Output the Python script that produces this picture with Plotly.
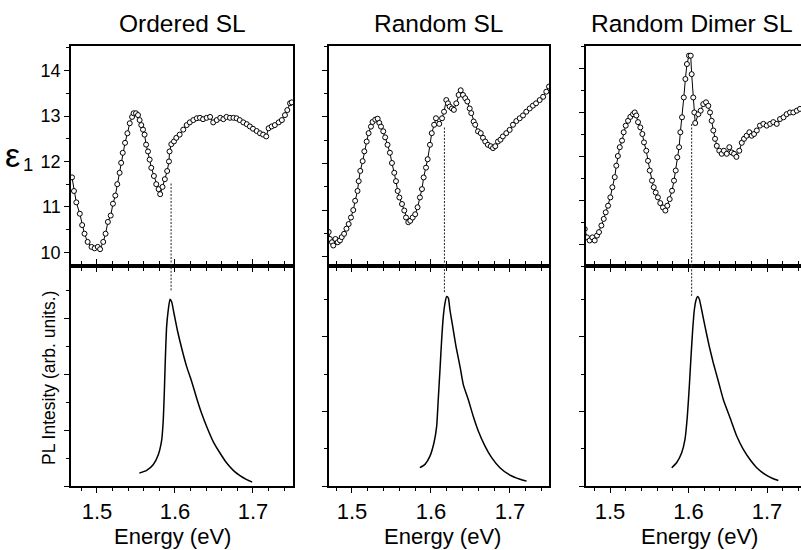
import plotly.graph_objects as go

# ---------------- data ----------------
titles = ["Ordered SL", "Random SL", "Random Dimer SL"]

# Ordered SL : epsilon_1
E_ord = [1.468, 1.4705, 1.4735, 1.478, 1.481, 1.484, 1.488, 1.493, 1.497, 1.501, 1.504, 1.508, 1.511,
         1.514, 1.5176, 1.5205, 1.5235, 1.526, 1.529, 1.531, 1.533, 1.536, 1.539, 1.542, 1.545, 1.547,
         1.550, 1.5526, 1.5547, 1.5568, 1.559, 1.561, 1.563, 1.5654, 1.5675, 1.5696, 1.573, 1.576, 1.579,
         1.581, 1.584, 1.587, 1.590, 1.5923, 1.593, 1.5953, 1.5987, 1.6017, 1.606, 1.6106, 1.615, 1.619,
         1.6235, 1.628, 1.632, 1.636, 1.6406, 1.645, 1.649, 1.6535, 1.658, 1.662, 1.666, 1.6705, 1.675,
         1.679, 1.683, 1.6876, 1.692, 1.696, 1.700, 1.7047, 1.709, 1.713, 1.717, 1.720, 1.724, 1.728,
         1.733, 1.737, 1.741, 1.744, 1.7475, 1.7497]
eps_ord = [11.65, 11.35, 11.10, 10.85, 10.60, 10.41, 10.23, 10.12, 10.09, 10.12, 10.07, 10.23, 10.41,
           10.67, 10.81, 11.07, 11.25, 11.50, 11.75, 11.97, 12.19, 12.41, 12.62, 12.84, 12.98, 13.06,
           13.06, 13.02, 12.91, 12.80, 12.70, 12.59, 12.37, 12.22, 12.04, 11.86, 11.68, 11.50, 11.39,
           11.28, 11.44, 11.61, 11.79, 12.00, 12.22, 12.38, 12.44, 12.52, 12.59, 12.70, 12.80, 12.86,
           12.91, 12.95, 12.96, 12.93, 12.96, 12.98, 12.86, 12.91, 12.96, 12.93, 12.98, 12.96, 12.96,
           12.95, 12.91, 12.86, 12.82, 12.77, 12.72, 12.67, 12.62, 12.59, 12.55, 12.73, 12.77, 12.80,
           12.86, 12.91, 13.02, 13.13, 13.28, 13.30]

# Random SL : epsilon_1
E_rnd = [1.4705, 1.472, 1.4747, 1.4763, 1.479, 1.482, 1.4848, 1.487, 1.490, 1.493, 1.4958, 1.4987,
         1.5016, 1.504, 1.507, 1.5085, 1.5105, 1.5135, 1.5156, 1.5186, 1.521, 1.524, 1.526, 1.5295,
         1.5325, 1.5346, 1.5367, 1.5396, 1.542, 1.545, 1.548, 1.5506, 1.5535, 1.5557, 1.5578, 1.560,
         1.5633, 1.5662, 1.5684, 1.5713, 1.5738, 1.5768, 1.580, 1.583, 1.586, 1.5886, 1.5907, 1.5937,
         1.5958, 1.5987, 1.601, 1.604, 1.6063, 1.6105, 1.614, 1.6165, 1.6194, 1.6215, 1.6237, 1.6266,
         1.629, 1.632, 1.635, 1.6376, 1.6405, 1.6434, 1.646, 1.649, 1.651, 1.654, 1.656, 1.6595, 1.663,
         1.6658, 1.6687, 1.672, 1.6756, 1.6785, 1.6814, 1.6848, 1.688, 1.691, 1.6953, 1.6996, 1.7038,
         1.708, 1.7123, 1.7165, 1.7206, 1.725, 1.729, 1.733, 1.7376, 1.742, 1.746, 1.7494]
eps_rnd = [10.53, 10.38, 10.31, 10.24, 10.38, 10.31, 10.35, 10.42, 10.49, 10.60, 10.70, 10.84,
           11.00, 11.20, 11.41, 11.62, 11.84, 12.05, 12.26, 12.47, 12.65, 12.79, 12.89, 12.94,
           12.96, 12.87, 12.79, 12.69, 12.56, 12.40, 12.23, 12.01, 11.80, 11.62, 11.41, 11.27,
           11.13, 10.99, 10.84, 10.74, 10.77, 10.84, 10.91, 11.06, 11.27, 11.45, 11.70, 11.91,
           12.09, 12.40, 12.65, 12.83, 12.97, 12.85, 12.97, 13.11, 13.36, 13.29, 13.22, 13.18,
           13.15, 13.29, 13.47, 13.57, 13.47, 13.40, 13.33, 13.18, 13.08, 12.90, 12.83, 12.69, 12.65,
           12.55, 12.47, 12.40, 12.37, 12.33, 12.37, 12.47, 12.51, 12.58, 12.65, 12.72, 12.83,
           12.91, 12.97, 13.03, 13.11, 13.18, 13.24, 13.29, 13.36, 13.43, 13.54, 13.65]

# Random Dimer SL : epsilon_1
E_dim = [1.4678, 1.4707, 1.474, 1.4775, 1.4805, 1.4834, 1.486, 1.489, 1.492, 1.4945, 1.4975, 1.5004,
         1.503, 1.506, 1.508, 1.510, 1.5124, 1.5153, 1.5174, 1.520, 1.523, 1.5259, 1.5293, 1.5315,
         1.5335, 1.5357, 1.5386, 1.5412, 1.5433, 1.5462, 1.5484, 1.5506, 1.5535, 1.5557, 1.5582,
         1.561, 1.564, 1.5675, 1.5705, 1.573, 1.576, 1.579, 1.5815, 1.5837, 1.5857, 1.588, 1.5896,
         1.5917, 1.594, 1.596, 1.598, 1.6006, 1.6028, 1.604, 1.606, 1.6074, 1.6085, 1.6125, 1.6155,
         1.6188, 1.6223, 1.6252, 1.6274, 1.6295, 1.6316, 1.6338, 1.636, 1.6392, 1.6423, 1.645, 1.6487,
         1.652, 1.655, 1.658, 1.661, 1.6647, 1.6678, 1.6707, 1.674, 1.6775, 1.6805, 1.6835, 1.687,
         1.691, 1.6953, 1.6996, 1.704, 1.708, 1.7124, 1.7166, 1.721, 1.725, 1.7293, 1.7335, 1.738, 1.742]
eps_dim = [10.34, 10.15, 10.08, 10.15, 10.08, 10.19, 10.27, 10.42, 10.57, 10.72, 10.87, 11.06,
           11.29, 11.52, 11.78, 12.00, 12.20, 12.35, 12.54, 12.69, 12.80, 12.89, 12.95, 12.99,
           12.92, 12.77, 12.65, 12.50, 12.31, 12.12, 11.89, 11.67, 11.44, 11.29, 11.17,
           11.06, 10.93, 10.83, 10.76, 10.87, 11.02, 11.21, 11.44, 11.67, 11.97, 12.20, 12.54,
           12.88, 13.33, 13.75, 14.09, 14.28, 14.28, 13.86, 13.33, 12.99, 12.75, 12.95, 13.03,
           13.18, 13.22, 13.14, 12.99, 12.80, 12.58, 12.39, 12.23, 12.12, 12.05, 12.12, 12.05,
           12.20, 12.08, 12.05, 11.98, 12.12, 12.30, 12.39, 12.46, 12.54, 12.46, 12.50, 12.58,
           12.69, 12.73, 12.69, 12.73, 12.77, 12.73, 12.84, 12.88, 12.95, 12.99, 12.99, 13.03, 13.07]

# PL spectra (arb. units)
E_pl_ord = [1.5543, 1.5637, 1.572, 1.5786, 1.583, 1.585, 1.5863, 1.5876, 1.5893, 1.5914, 1.5936, 1.5957,
            1.5987, 1.603, 1.6086, 1.615, 1.6214, 1.6278, 1.634, 1.6406, 1.649, 1.6577, 1.6663, 1.6747,
            1.6833, 1.6919, 1.699]
pl_ord = [0.46, 0.56, 0.76, 1.12, 1.65, 2.37, 3.32, 4.51, 5.70, 6.30, 6.68, 6.59, 6.18, 5.58, 4.93,
          4.27, 3.74, 3.14, 2.61, 2.13, 1.59, 1.18, 0.82, 0.56, 0.37, 0.23, 0.14]

E_pl_rnd = [1.586, 1.5924, 1.5987, 1.6038, 1.6072, 1.6092, 1.6114, 1.6135, 1.6156, 1.6177, 1.6199, 1.622,
            1.624, 1.6275, 1.6317, 1.6367, 1.6409, 1.6472, 1.6535, 1.660, 1.6684, 1.6768, 1.6873, 1.700,
            1.7127, 1.7211]
pl_rnd = [0.49, 0.58, 0.80, 1.16, 1.60, 2.32, 3.12, 3.92, 4.55, 4.90, 5.08, 5.04, 4.72, 4.28, 3.74,
          3.21, 2.72, 2.32, 1.87, 1.47, 1.07, 0.76, 0.49, 0.29, 0.18, 0.13]

E_pl_dim = [1.5786, 1.585, 1.5913, 1.5955, 1.5985, 1.601, 1.6032, 1.6053, 1.6074, 1.6096, 1.6117, 1.6138,
            1.6168, 1.621, 1.6265, 1.6316, 1.638, 1.6443, 1.6529, 1.6614, 1.6698, 1.6783, 1.6869, 1.6975,
            1.7073, 1.7144]
pl_dim = [0.49, 0.63, 0.89, 1.25, 1.87, 2.67, 3.48, 4.19, 4.72, 4.99, 5.08, 5.01, 4.72, 4.28, 3.74,
          3.30, 2.81, 2.32, 1.83, 1.34, 0.98, 0.71, 0.49, 0.31, 0.20, 0.15]

# dotted guide lines: energy, epsilon where it starts, PL where it ends
guide_E = [1.595, 1.617, 1.604]
guide_eps = [11.55, 12.78, 12.74]
guide_pl = [7.0, 5.2, 5.1]

x_tickvals = [1.5, 1.6, 1.7]
x_ticktext = ["1.5", "1.6", "1.7"]

# ---------------- layout geometry ----------------
W, H = 801, 550
T, B = 46, 64
FONT = "Liberation Sans, Arial, Helvetica, sans-serif"


def px(x):
    return x / W


def py(y):
    return (H - B - y) / (H - T - B)


x_dom = [[px(71), px(293)], [px(329), px(549)], [px(586), 1.0]]
x_rng = [[1.4667, 1.7513], [1.4709, 1.7494], [1.4694, 1.7433]]
top_rng = [[9.7, 14.54], [9.8, 14.52], [9.5, 14.5]]
bot_rng = [[0, 7.87], [0, 5.9], [0, 5.9]]

eps_E = [E_ord, E_rnd, E_dim]
eps_v = [eps_ord, eps_rnd, eps_dim]
pl_E = [E_pl_ord, E_pl_rnd, E_pl_dim]
pl_v = [pl_ord, pl_rnd, pl_dim]

fig = go.Figure()

for i in range(3):
    xt = "x" if i == 0 else f"x{i + 1}"
    yt = "y" if i == 0 else f"y{i + 1}"
    xb = f"x{i + 4}"
    yb = f"y{i + 4}"
    fig.add_trace(go.Scatter(
        x=eps_E[i], y=eps_v[i], xaxis=xt, yaxis=yt, mode="lines+markers",
        line=dict(color="black", width=1),
        marker=dict(symbol="circle", size=5, color="white", line=dict(color="black", width=1)),
        cliponaxis=True, showlegend=False))
    fig.add_trace(go.Scatter(
        x=pl_E[i], y=pl_v[i], xaxis=xb, yaxis=yb, mode="lines",
        line=dict(color="black", width=1.5, shape="spline", smoothing=0.5),
        showlegend=False))
    # dotted guides
    fig.add_shape(type="line", xref=xt, yref=yt, x0=guide_E[i], x1=guide_E[i],
                  y0=top_rng[i][0], y1=guide_eps[i],
                  line=dict(color="#222", width=1, dash="2px,1.5px"))
    fig.add_shape(type="line", xref=xb, yref=yb, x0=guide_E[i], x1=guide_E[i],
                  y0=guide_pl[i], y1=bot_rng[i][1],
                  line=dict(color="#222", width=1, dash="2px,1.5px"))

axis_common = dict(showline=True, linecolor="black", linewidth=1.5, showgrid=False, zeroline=False,
                   ticks="outside", tickcolor="black", tickwidth=1)
minor_x = dict(dtick=0.02, tick0=1.5, ticklen=3, ticks="outside", tickcolor="black", tickwidth=1,
               showgrid=False)

layout = dict(width=W, height=H, margin=dict(l=0, r=0, t=T, b=B),
              plot_bgcolor="white", paper_bgcolor="white",
              font=dict(family=FONT, color="black"), showlegend=False)

for i in range(3):
    kt = "xaxis" if i == 0 else f"xaxis{i + 1}"
    kyt = "yaxis" if i == 0 else f"yaxis{i + 1}"
    kb = f"xaxis{i + 4}"
    kyb = f"yaxis{i + 4}"
    yt_anchor = "y" if i == 0 else f"y{i + 1}"
    xt_anchor = "x" if i == 0 else f"x{i + 1}"
    layout[kt] = dict(axis_common, domain=x_dom[i], range=x_rng[i], anchor=yt_anchor,
                      tick0=1.5, dtick=0.1, ticklen=4, showticklabels=False, mirror=True,
                      minor=minor_x)
    layout[kb] = dict(axis_common, domain=x_dom[i], range=x_rng[i], anchor=f"y{i + 4}",
                      tickvals=x_tickvals, ticktext=x_ticktext, ticklen=5, mirror="ticks",
                      tickfont=dict(size=22, family=FONT, color="black"), minor=minor_x)
    layout[kyt] = dict(axis_common, domain=[0.5, 1.0], range=top_rng[i], anchor=xt_anchor,
                       tick0=10, dtick=1, ticklen=5, mirror=(i < 2),
                       showticklabels=(i == 0),
                       tickfont=dict(size=18, family=FONT, color="black"),
                       minor=dict(dtick=0.5, ticklen=3, ticks="outside", tickcolor="black",
                                  tickwidth=1, showgrid=False))
    layout[kyb] = dict(axis_common, domain=[0.0, 0.5], range=bot_rng[i], anchor=f"x{i + 4}",
                       tick0=0, dtick=2, ticklen=5, mirror=(i < 2), showticklabels=False,
                       minor=dict(dtick=1, ticklen=3, ticks="outside", tickcolor="black",
                                  tickwidth=1, showgrid=False))

fig.update_layout(**layout)

ann = []
title_x = [182, 438, 691.5]
energy_x = [172.5, 442.5, 699.5]
for i in range(3):
    ann.append(dict(text=titles[i], x=px(title_x[i]), y=py(23), xref="paper", yref="paper",
                    xanchor="center", yanchor="middle", showarrow=False,
                    font=dict(size=24.5, family=FONT, color="black")))
    ann.append(dict(text="Energy (eV)", x=px(energy_x[i]), y=py(536.5), xref="paper", yref="paper",
                    xanchor="center", yanchor="middle", showarrow=False,
                    font=dict(size=22, family=FONT, color="black")))
ann.append(dict(text="PL Intesity (arb. units.)", x=px(49), y=py(378), xref="paper", yref="paper",
                xanchor="center", yanchor="middle", textangle=-90, showarrow=False,
                font=dict(size=17.5, family=FONT, color="black")))
ann.append(dict(text="ε", x=px(22), y=py(155.3), xref="paper", yref="paper",
                xanchor="right", yanchor="middle", showarrow=False,
                font=dict(size=34, family=FONT, color="black")))
ann.append(dict(text="1", x=px(20.5), y=py(164), xref="paper", yref="paper",
                xanchor="left", yanchor="middle", showarrow=False,
                font=dict(size=18.5, family=FONT, color="black")))
fig.update_layout(annotations=ann)

fig.write_html(
    "out.html",
    config={"displayModeBar": False},
    post_script="document.body.style.margin='0';document.body.style.padding='0';"
                "document.documentElement.style.overflow='hidden';",
)
